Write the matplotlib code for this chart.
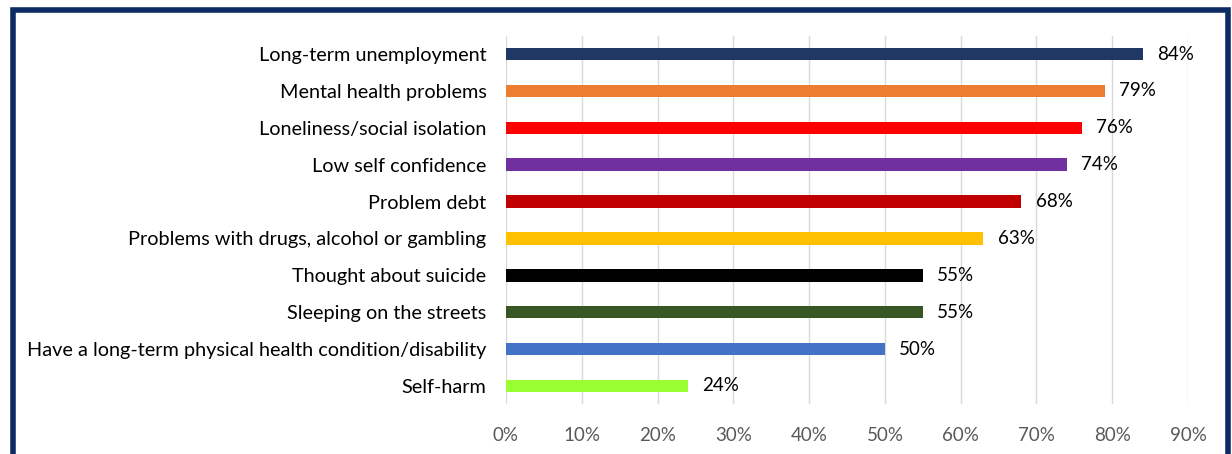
import matplotlib.pyplot as plt
from matplotlib.patches import Rectangle

# data, top to bottom as shown
labels = ['Long-term unemployment', 'Mental health problems', 'Loneliness/social isolation',
          'Low self confidence', 'Problem debt', 'Problems with drugs, alcohol or gambling',
          'Thought about suicide', 'Sleeping on the streets',
          'Have a long-term physical health condition/disability', 'Self-harm']
values = [84, 79, 76, 74, 68, 63, 55, 55, 50, 24]
colors = ['#203864', '#ED7D31', '#FF0000', '#7030A0', '#C00000', '#FFC000',
          '#000000', '#375623', '#4472C4', '#99FF33']
ticks = [0, 10, 20, 30, 40, 50, 60, 70, 80, 90]

plt.rcParams['font.family'] = ['Lato', 'DejaVu Sans']

fig = plt.figure(figsize=(12.32, 4.54), dpi=100)
ax = fig.add_axes([0.4107, 0.1093, 0.9643 - 0.4107, 0.9216 - 0.1093])

ypos = list(range(len(labels)))
ax.barh(ypos, values, height=0.34, color=colors, zorder=3)
for y, v in zip(ypos, values):
    ax.text(v + 1.9, y, f'{v}%', va='center', ha='left', fontsize=13.5, color='black')

ax.set_xlim(0, 90)
ax.set_ylim(len(labels) - 0.5, -0.5)
ax.set_yticks(ypos)
ax.set_yticklabels(labels, fontsize=14.3, color='black')
ax.set_xticks(ticks)
ax.set_xticklabels([f'{t}%' for t in ticks], fontsize=13.5, color='#595959')
ax.tick_params(axis='both', length=0)
ax.tick_params(axis='y', pad=14)
ax.tick_params(axis='x', pad=16)
ax.grid(axis='x', color='#d9d9d9', linewidth=1, zorder=0)
for s in ax.spines.values():
    s.set_visible(False)

# dark frame round the whole figure
fig.patches.append(Rectangle((13 / 1232, -0.05), (1228 - 13) / 1232, 1.05 - 10.5 / 454,
                             transform=fig.transFigure, fill=False,
                             edgecolor='#0d2a63', linewidth=4))

fig.savefig('out.png', dpi=100)
